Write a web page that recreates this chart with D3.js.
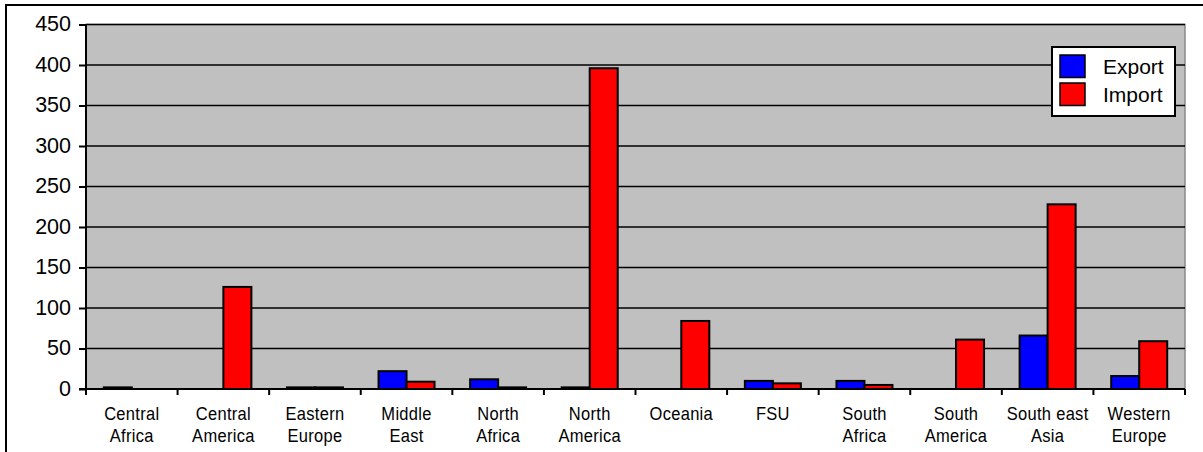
<!DOCTYPE html>
<html><head><meta charset="utf-8">
<script src="https://cdn.jsdelivr.net/npm/d3@7"></script>
<style>body{margin:0;background:#fff}svg{display:block;font-family:"Liberation Sans",Arial,sans-serif}</style>
</head><body>
<svg id="c" width="1203" height="452"></svg>
<script>
const categories = [["Central","Africa"],["Central","America"],["Eastern","Europe"],["Middle","East"],["North","Africa"],["North","America"],["Oceania"],["FSU"],["South","Africa"],["South","America"],["South east","Asia"],["Western","Europe"]];
const seriesNames = ["Export","Import"];
const exportValues = [2,0,2,22,12,2,0,10,10,0,66,16];
const importValues = [0,126,2,9,2,396,84,7,5,61,228,59];
const yTicks = [0,50,100,150,200,250,300,350,400,450];
const colors = {Export:"#0000FF", Import:"#FF0000"};

const svg = d3.select("#c");
const L=86, R=1185, T=24.5, B=389;

// outer frame
svg.append("rect").attr("x",6).attr("y",5).attr("width",1300).attr("height",600)
  .attr("fill","none").attr("stroke","#000").attr("stroke-width",2);

const keys = categories.map((c,i)=>i);
const x0 = d3.scaleBand().domain(keys).range([L,R]).paddingInner(0).paddingOuter(0);
const x1 = d3.scaleBand().domain(seriesNames).range([0,x0.bandwidth()]).paddingInner(0).paddingOuter(0.635);
const y = d3.scaleLinear().domain([0,450]).range([B,T]);

svg.append("rect").attr("x",L).attr("y",T).attr("width",R-L).attr("height",B-T)
  .attr("fill","#C0C0C0").attr("stroke","#8a8a8a").attr("stroke-width",1.5);

// gridlines
svg.append("g").selectAll("line").data(yTicks.filter(v=>v>0)).join("line")
  .attr("x1",L).attr("x2",R).attr("y1",d=>y(d)).attr("y2",d=>y(d))
  .attr("stroke","#000").attr("stroke-width",1.5);

// bars
const data = keys.map(i=>({i, vals:[{k:"Export",v:exportValues[i]},{k:"Import",v:importValues[i]}]}));
const g = svg.append("g");
data.forEach(d=>{
  d.vals.forEach(s=>{
    if(s.v<=0) return;
    g.append("rect").attr("x",x0(d.i)+x1(s.k)).attr("y",y(s.v))
      .attr("width",x1.bandwidth()).attr("height",B-y(s.v))
      .attr("fill",colors[s.k]).attr("stroke","#000").attr("stroke-width",2);
  });
});

// y axis
const yAxis = d3.axisLeft(y).tickValues(yTicks).tickSize(7).tickPadding(8);
const ya = svg.append("g").attr("transform",`translate(${L},0)`).call(yAxis);
ya.select(".domain").attr("stroke","#000").attr("stroke-width",2).attr("d",`M-7,${B}H0V${T}`);
ya.selectAll(".tick line").attr("stroke","#000").attr("stroke-width",2);
ya.selectAll(".tick text").attr("font-size",21.5).attr("fill","#000").attr("font-family","Liberation Sans, Arial").attr("dy","0.3em");

// x axis
const xa = svg.append("g").attr("transform",`translate(0,${B})`);
xa.append("line").attr("x1",L).attr("x2",R).attr("y1",0).attr("y2",0).attr("stroke","#000").attr("stroke-width",2);
xa.selectAll("line.t").data(d3.range(categories.length+1)).join("line").attr("class","t")
  .attr("x1",d=>L+d*x0.step()).attr("x2",d=>L+d*x0.step()).attr("y1",0).attr("y2",6)
  .attr("stroke","#000").attr("stroke-width",2);
xa.selectAll("text").data(keys).join("text")
  .attr("text-anchor","middle").attr("font-size",16.5).attr("fill","#000")
  .attr("letter-spacing",0.3)
  .attr("transform",d=>`translate(${x0(d)+x0.bandwidth()/2},0) scale(1,1.08)`)
  .each(function(d){
    const t=d3.select(this);
    categories[d].forEach((line,j)=>t.append("tspan").attr("x",0).attr("y",(28.3+j*20.8)).text(line));
  });

// legend
const lg = svg.append("g");
lg.append("rect").attr("x",1052).attr("y",47).attr("width",123).attr("height",69)
  .attr("fill","#fff").attr("stroke","#000").attr("stroke-width",2);
seriesNames.forEach((s,i)=>{
  lg.append("rect").attr("x",1060).attr("y",55+i*28).attr("width",25).attr("height",22.5)
    .attr("fill",colors[s]).attr("stroke","#000").attr("stroke-width",1.5);
  lg.append("text").attr("x",1103).attr("y",74+i*28).attr("font-size",21).attr("fill","#000").text(s);
});
</script>
</body></html>
